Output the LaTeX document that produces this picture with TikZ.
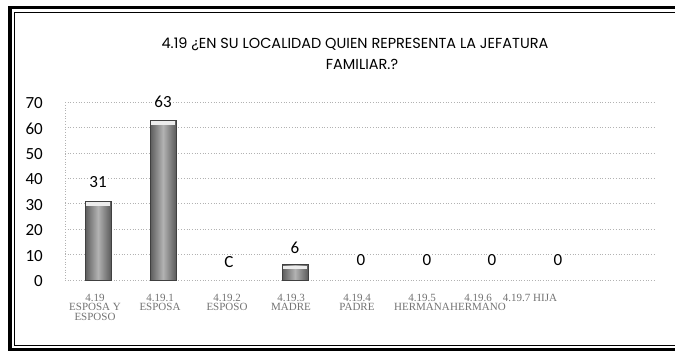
\documentclass[tikz,border=0pt]{standalone}
\usepackage{fontspec}
\usepackage{tikz}
\newfontfamily\titlefont{Poppins}
\newfontfamily\numfont{Carlito}
\newfontfamily\catfont{Liberation Serif}
\definecolor{gridgray}{rgb}{0.70, 0.70, 0.70}
\definecolor{bardark}{rgb}{0.36, 0.36, 0.36}
\definecolor{barlight}{rgb}{0.70, 0.70, 0.70}

\begin{document}
\begin{tikzpicture}[x=1pt, y=-1pt,
  ticklbl/.style={anchor=east, inner sep=0pt, font=\numfont\fontsize{17}{17}\selectfont},
  vallbl/.style={fill=white, inner sep=1pt, font=\numfont\fontsize{17}{17}\selectfont},
  catlbl/.style={anchor=north, align=center, inner sep=0pt, text=black!55,
    font=\catfont\fontsize{11}{9.5}\selectfont},
  gridline/.style={gridgray, dotted, line width=0.7pt},
  bar/.style={draw=black!75, line width=0.7pt, left color=bardark, right color=bardark, middle color=barlight}]

% Page and frame (open on the right)
\useasboundingbox (0,0) rectangle (675,354);
\fill[white] (0,0) rectangle (675,354);
\draw[line width=3.5pt] (675,7.5) -- (10,7.5) -- (10,349.5) -- (675,349.5);
\draw[line width=0.8pt] (675,12) -- (14.5,12) -- (14.5,345) -- (675,345);

% Title
\node[font=\titlefont\fontsize{14.5}{14.5}\selectfont] (title1) at (355,44.5) {4.19 ¿EN SU LOCALIDAD QUIEN REPRESENTA LA JEFATURA};
\node[font=\titlefont\fontsize{14.5}{14.5}\selectfont] (title2) at (362,64.5) {FAMILIAR.?};

% Grid (dotted)
\draw[gridline] (65,102.2) -- (65,280);
\draw[gridline] (65,280) -- (656,280);
\draw[gridline] (65,254.6) -- (656,254.6);
\draw[gridline] (65,229.2) -- (656,229.2);
\draw[gridline] (65,203.8) -- (656,203.8);
\draw[gridline] (65,178.4) -- (656,178.4);
\draw[gridline] (65,153.0) -- (656,153.0);
\draw[gridline] (65,127.6) -- (656,127.6);
\draw[gridline] (65,102.2) -- (656,102.2);

% Axis values
\node[ticklbl] (t0)  at (43,281)   {0};
\node[ticklbl] (t10) at (43,255.6) {10};
\node[ticklbl] (t20) at (43,230.2) {20};
\node[ticklbl] (t30) at (43,204.8) {30};
\node[ticklbl] (t40) at (43,179.4) {40};
\node[ticklbl] (t50) at (43,154.0) {50};
\node[ticklbl] (t60) at (43,128.6) {60};
\node[ticklbl] (t70) at (43,103.2) {70};

% Bars (31, 63, 0, 6, 0, 0, 0, 0)
\draw[bar] (85,280) rectangle (111,201.3);
\draw[bar] (150,280) rectangle (176,120.0);
\draw[bar] (282,280) rectangle (308,264.8);

% Light tops of the bars
\fill[gray!15] (86,202) rectangle (110,205.5);
\fill[gray!15] (151,121) rectangle (175,124.5);
\fill[gray!15] (283,265.5) rectangle (307,268.5);

% Values
\node[vallbl] (v1) at (98,182)  {31};
\node[vallbl] (v2) at (163,102) {63};
\node[vallbl] (v3) at (229,262) {C};
\node[vallbl] (v4) at (295,248) {6};
\node[vallbl] (v5) at (361,260) {0};
\node[vallbl] (v6) at (427,260) {0};
\node[vallbl] (v7) at (492,260) {0};
\node[vallbl] (v8) at (558,260) {0};

% Categories
\node[catlbl] (c1) at (95,294)  {4.19\\ESPOSA Y\\ESPOSO};
\node[catlbl] (c2) at (160,294) {4.19.1\\ESPOSA};
\node[catlbl] (c3) at (227,294) {4.19.2\\ESPOSO};
\node[catlbl] (c4) at (291,294) {4.19.3\\MADRE};
\node[catlbl] (c5) at (357,294) {4.19.4\\PADRE};
\node[catlbl] (c6) at (422,294) {4.19.5\\HERMANA};
\node[catlbl] (c7) at (478,294) {4.19.6\\HERMANO};
\node[catlbl] (c8) at (530,294) {4.19.7 HIJA};

\end{tikzpicture}
\end{document}
